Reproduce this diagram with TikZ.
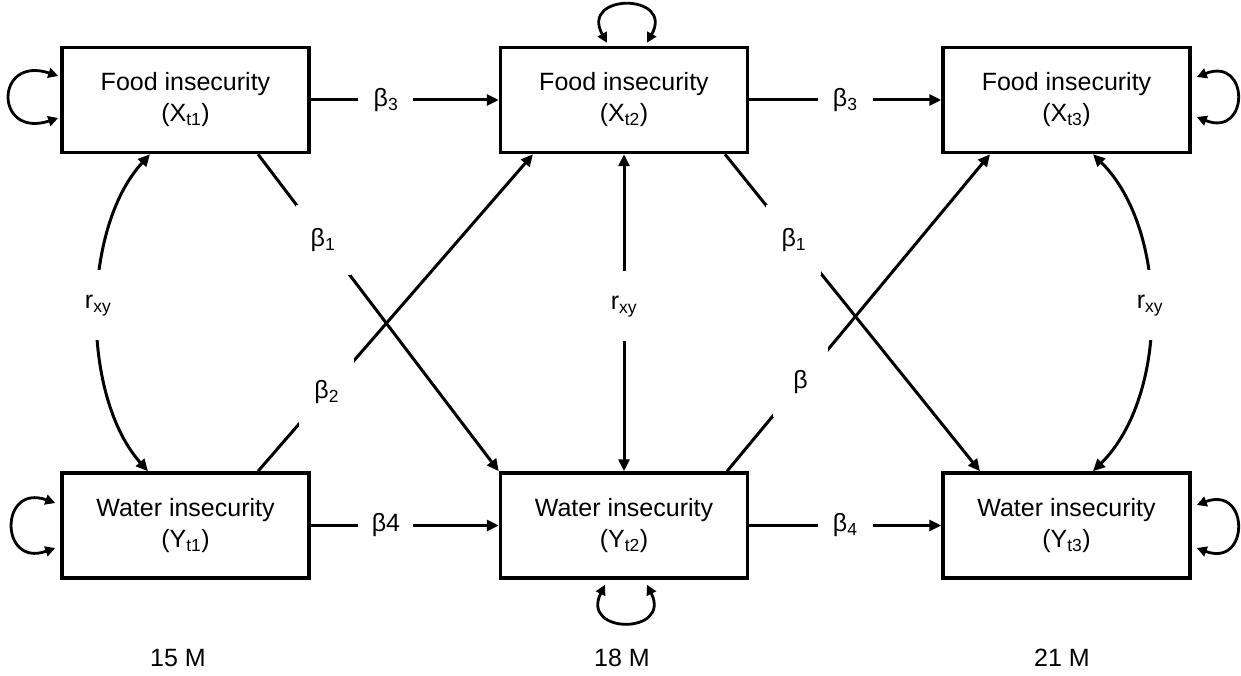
\documentclass[tikz,border=0pt]{standalone}
\usepackage{fontspec}
\setmainfont{Liberation Sans}
\usetikzlibrary{arrows.meta}
\tikzset{
  every node/.style={font=\fontsize{25}{31}\selectfont},
  box/.style={draw, line width=3.5pt, minimum width=247pt, minimum height=105pt, align=center, inner sep=0pt},
  conn/.style={line width=3pt},
  tip/.style={-{Triangle[length=12pt,width=11pt]}},
  dtip/.style={{Triangle[length=12pt,width=11pt]}-{Triangle[length=12pt,width=11pt]}},
  looptip/.style={line width=2.8pt,{Triangle[length=10pt,width=10pt]}-{Triangle[length=10pt,width=10pt]}},
  lbl/.style={fill=white, minimum width=55pt, minimum height=70pt, inner sep=0pt},
}
\begin{document}
\begin{tikzpicture}[x=1pt,y=-1pt]
\useasboundingbox (0,0) rectangle (1241,676);
% boxes
\node[box] (x1) at (185.5,100) {Food insecurity\\(X\textsubscript{t1})};
\node[box] (x2) at (624,100) {Food insecurity\\(X\textsubscript{t2})};
\node[box] (x3) at (1066.5,100) {Food insecurity\\(X\textsubscript{t3})};
\node[box] (y1) at (185.5,525.5) {Water insecurity\\(Y\textsubscript{t1})};
\node[box] (y2) at (624,525.5) {Water insecurity\\(Y\textsubscript{t2})};
\node[box] (y3) at (1066.5,525.5) {Water insecurity\\(Y\textsubscript{t3})};
% time labels
\node (m15) at (178,658) {15 M};
\node (m18) at (622,658) {18 M};
\node (m21) at (1062,658) {21 M};
% horizontal paths
\draw[conn,tip] (x1) -- node[lbl,pos=0.4]{β\textsubscript{3}} (x2);
\draw[conn,tip] (x2) -- node[lbl,pos=0.5]{β\textsubscript{3}} (x3);
\draw[conn,tip] (y1) -- node[lbl,pos=0.4]{β4} (y2);
\draw[conn,tip] (y2) -- node[lbl,pos=0.5]{β\textsubscript{4}} (y3);
% middle correlation
\draw[conn,dtip] (x2) -- node[lbl,pos=0.48]{r\textsubscript{xy}} (y2);
% cross-lagged paths
\draw[conn,tip] ([xshift=72.5pt]x1.south) -- node[lbl,pos=0.27]{β\textsubscript{1}} (y2.north west);
\draw[conn,tip] ([xshift=72.5pt]y1.north) -- node[lbl,pos=0.25]{β\textsubscript{2}} ([xshift=-91pt]x2.south);
\draw[conn,tip] ([xshift=101pt]x2.south) -- node[lbl,pos=0.27]{β\textsubscript{1}} ([xshift=-86.5pt]y3.north);
\draw[conn,tip] ([xshift=103pt]y2.north) -- node[lbl,pos=0.28]{β} ([xshift=-76.5pt]x3.south);
% curved correlations
\draw[conn,dtip] ([xshift=-35.5pt]x1.south) .. controls +(-69,75) and +(-67,-75) .. node[lbl,pos=0.48]{r\textsubscript{xy}} ([xshift=-37.5pt]y1.north);
\draw[conn,dtip] ([xshift=26.5pt]x3.south) .. controls +(76,75) and +(76,-75) .. node[lbl,pos=0.48]{r\textsubscript{xy}} ([xshift=26.5pt]y3.north);
% self loops
\draw[looptip] ([xshift=-2pt,yshift=24pt]x1.west) .. controls +(-64,-21) and +(-64,21) .. ([xshift=-2pt,yshift=-18pt]x1.west);
\draw[looptip] ([xshift=-5pt,yshift=22.5pt]y1.west) .. controls +(-56,-20) and +(-56,20) .. ([xshift=-5pt,yshift=-22.5pt]y1.west);
\draw[looptip] ([xshift=5pt,yshift=23pt]x3.east) .. controls +(53,-21) and +(53,21) .. ([xshift=5pt,yshift=-17pt]x3.east);
\draw[looptip] ([xshift=5pt,yshift=20.5pt]y3.east) .. controls +(53,-20) and +(53,20) .. ([xshift=5pt,yshift=-22.5pt]y3.east);
\draw[looptip] ([xshift=-17pt,yshift=3pt]x2.north) .. controls +(-28,-50) and +(28,-50) .. ([xshift=23pt,yshift=3pt]x2.north);
\draw[looptip] ([xshift=-19pt,yshift=-5pt]y2.south) .. controls +(-25,50) and +(25,50) .. ([xshift=23pt,yshift=-5pt]y2.south);
\end{tikzpicture}
\end{document}
